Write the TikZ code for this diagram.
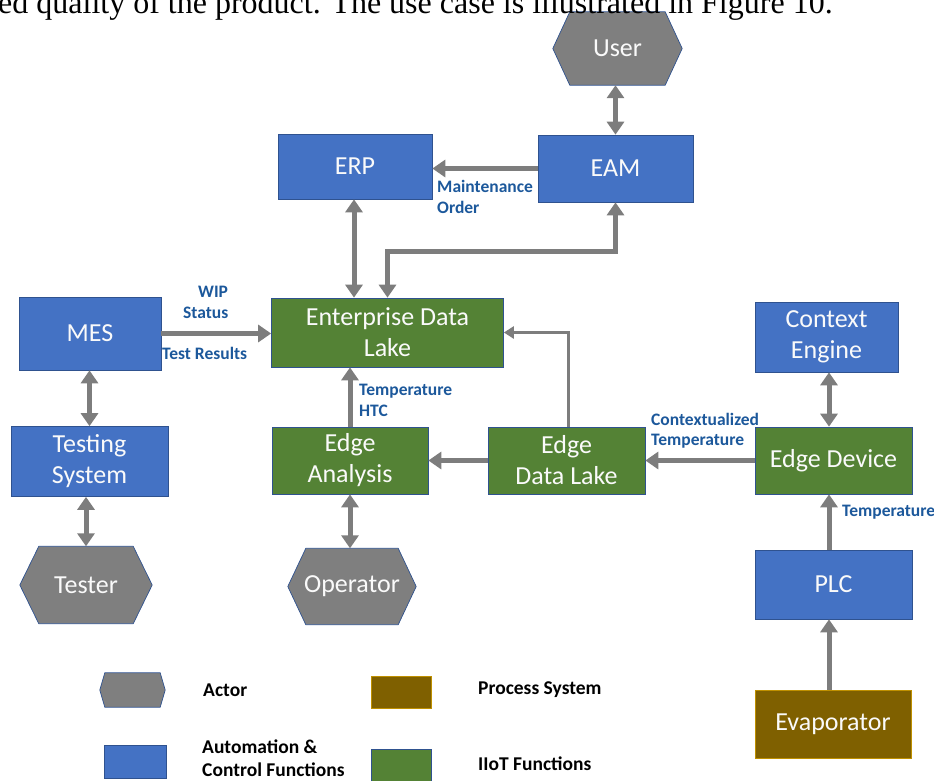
\documentclass[tikz,border=0pt]{standalone}
\usepackage{fontspec}
\setmainfont{Carlito}
\newfontfamily\serifcap{Liberation Serif}
\usetikzlibrary{arrows.meta,backgrounds}

\definecolor{autoblue}{HTML}{4472C4}
\definecolor{iiotgreen}{HTML}{548235}
\definecolor{procbrown}{HTML}{7F6000}
\definecolor{actorgray}{HTML}{7F7F7F}
\definecolor{edgeline}{HTML}{2F528F}
\definecolor{procline}{HTML}{BF9000}
\definecolor{arrowgray}{RGB}{125,125,125}
\definecolor{lblblue}{RGB}{28,88,155}
\definecolor{boxtext}{RGB}{250,250,250}

\tikzset{
  box/.style={draw=edgeline, line width=0.7pt, text=boxtext, inner sep=0pt,
    align=center, font=\fontsize{26}{31}\selectfont},
  autobox/.style={box, fill=autoblue},
  iiotbox/.style={box, fill=iiotgreen},
  procbox/.style={box, fill=procbrown, draw=procline},
  actor/.style={inner sep=0pt, text=boxtext, align=center,
    font=\fontsize{26}{31}\selectfont},
  biarrow/.style={draw=arrowgray, line width=5pt,
    {Triangle[width=17pt,length=13pt]}-{Triangle[width=17pt,length=13pt]}},
  onearrow/.style={draw=arrowgray, line width=5pt,
    -{Triangle[width=17pt,length=13pt]}},
  thinarrow/.style={draw=arrowgray, line width=3pt,
    -{Triangle[width=12pt,length=10pt]}},
  flowlabel/.style={anchor=west, inner sep=0pt, text=lblblue,
    font=\bfseries\fontsize{17.5}{21}\selectfont},
  legendtext/.style={anchor=west, inner sep=0pt, text=black,
    font=\bfseries\fontsize{19.5}{23}\selectfont},
}

% hexagon drawn behind an actor node
\newcommand{\actorhex}[2]{%
  \fill[actorgray, draw=edgeline, line width=0.7pt]
    (#1.west) -- ([xshift=#2]#1.north west) -- ([xshift=-#2]#1.north east)
    -- (#1.east) -- ([xshift=-#2]#1.south east) -- ([xshift=#2]#1.south west)
    -- cycle;}

\begin{document}
\begin{tikzpicture}[x=1pt, y=-1pt]
\useasboundingbox (0,0) rectangle (934,780);
\clip (0,0) rectangle (934,780);

% running text line above the figure
\node[anchor=base west, inner sep=0pt, font=\serifcap\fontsize{32}{38}\selectfont]
  (runningline) at (-2,13) {ed quality of the product. The use case is illustrated in Figure 10.};

% actors
\node[actor, minimum width=129pt, minimum height=73pt] (user) at (617.5,48.5) {User};
\node[actor, minimum width=132pt, minimum height=77pt] (tester) at (86,585) {Tester};
\node[actor, minimum width=128pt, minimum height=76pt] (operator) at (352,586.5) {Operator};

% automation and control functions
\node[autobox, minimum width=155pt, minimum height=67pt] (eam) at (615.5,168.5) {EAM};
\node[autobox, minimum width=154pt, minimum height=65pt] (erp) at (355,166.5) {ERP};
\node[autobox, minimum width=142pt, minimum height=73pt] (mes) at (90,333.5) {MES};
\node[autobox, minimum width=157pt, minimum height=70pt] (tsys) at (89.5,461.5) {Testing\\System};
\node[autobox, minimum width=143pt, minimum height=70pt] (ctx) at (826.5,337) {Context\\Engine};
\node[autobox, minimum width=157pt, minimum height=69pt] (plc) at (833.5,584.5) {PLC};

% IIoT functions
\node[iiotbox, minimum width=232pt, minimum height=69pt] (edl) at (387.5,332.5) {Enterprise Data\\Lake};
\node[iiotbox, minimum width=156pt, minimum height=67pt] (ea) at (350,460.5) {Edge\\Analysis};
\node[iiotbox, minimum width=157pt, minimum height=67pt] (edlake) at (566.5,460.5) {Edge\\Data Lake};
\node[iiotbox, minimum width=157pt, minimum height=67pt] (edev) at (833.5,460.5) {Edge Device};

% process system
\node[procbox, minimum width=156pt, minimum height=68pt] (evap) at (833,724) {Evaporator};

% legend
\node[actor, minimum width=65pt, minimum height=34pt] (legactor) at (132.5,690) {};
\node[autobox, minimum width=62pt, minimum height=33pt] (legauto) at (135,761.5) {};
\node[procbox, minimum width=60pt, minimum height=32pt] (legproc) at (401,692) {};
\node[iiotbox, minimum width=60pt, minimum height=32pt] (legiiot) at (401,765) {};
\node[legendtext] (legactortxt) at (203,690) {Actor};
\node[legendtext] (legproctxt) at (478,690) {Process System};
\node[legendtext, align=left] (legautotxt) at (202,758) {Automation \&\\Control Functions};
\node[legendtext] (legiiottxt) at (478,764) {IIoT Functions};

\begin{scope}[on background layer]
  \actorhex{user}{17}
  \actorhex{tester}{19}
  \actorhex{operator}{18}
  \actorhex{legactor}{5}
\end{scope}

% helper coordinates for routed connectors
\coordinate (jog) at (0,251);
\coordinate (colR) at (829,0);

% connectors
\draw[biarrow] (eam.north) -- (eam.north |- user.south);
\draw[onearrow] (eam.west) -- (eam.west -| erp.east);
\draw[biarrow] ([xshift=-1pt]erp.south) -- ([xshift=-1pt]erp.south |- edl.north);
\draw[biarrow] (edl.north) -- (edl.north |- jog) -| (eam.south);
\draw[onearrow] (mes.east) -- (mes.east -| edl.west);
\draw[biarrow] (tsys.north) -- (tsys.north |- mes.south);
\draw[biarrow] (tester.north) -- (tester.north |- tsys.south);
\draw[onearrow] (ea.north) -- (ea.north |- edl.south);
\draw[biarrow] (ea.south) -- (ea.south |- operator.north);
\draw[onearrow] (edlake.west) -- (ea.east);
\draw[thinarrow] ([xshift=1.5pt]edlake.north) |- (edl.east);
\draw[onearrow] (edev.west) -- (edlake.east);
\draw[biarrow] (ctx.south -| colR) -- (edev.north -| colR);
\draw[onearrow] (plc.north -| colR) -- (edev.south -| colR);
\draw[onearrow] (evap.north -| colR) -- (plc.south -| colR);

% connector labels
\node[flowlabel] (lblmaint) at (437,186) {Maintenance};
\node[flowlabel] (lblorder) at (437,207) {Order};
\node[flowlabel] (lblwip) at (198,292) {WIP};
\node[flowlabel] (lblstatus) at (183,313) {Status};
\node[flowlabel] (lbltest) at (162,353) {Test Results};
\node[flowlabel] (lbltemp1) at (359,391) {Temperature};
\node[flowlabel] (lblhtc) at (359,411) {HTC};
\node[flowlabel] (lblctx) at (651,419) {Contextualized};
\node[flowlabel] (lbltemp2) at (651,441) {Temperature};
\node[flowlabel] (lbltemp3) at (842,512) {Temperature};
\end{tikzpicture}
\end{document}
